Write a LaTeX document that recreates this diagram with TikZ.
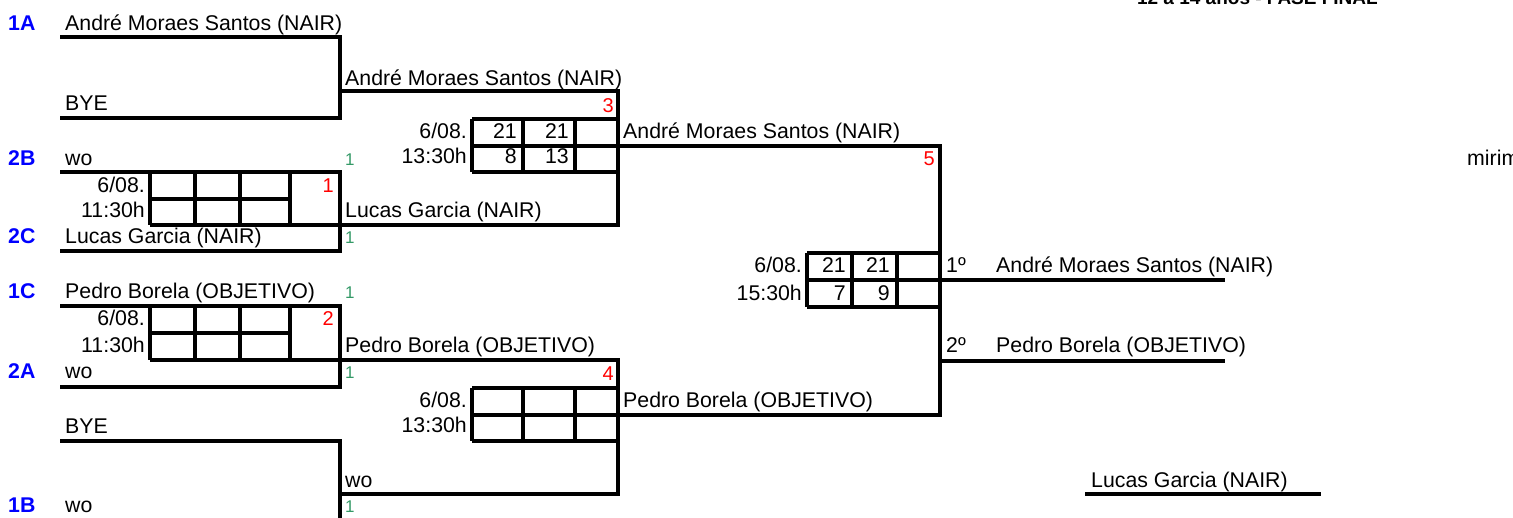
\documentclass[tikz,border=0pt]{standalone}
\usepackage{fontspec}
\setmainfont{Liberation Sans}
\definecolor{grn}{RGB}{51,153,102}
\tikzset{
 br/.style={line width=3.4pt, line join=miter, line cap=butt},
 gr/.style={line width=3.4pt, line cap=butt},
 txt/.style={inner sep=0pt, font=\fontsize{21.3}{24}\selectfont},
 L/.style={txt, anchor=base west},
 R/.style={txt, anchor=base east},
 lab/.style={L, text=blue, font=\fontsize{21.3}{24}\selectfont\bfseries},
 gn/.style={L, text=grn, font=\fontsize{17}{20}\selectfont},
 rd/.style={R, text=red, font=\fontsize{20}{24}\selectfont},
 ttl/.style={inner sep=0pt, anchor=base east, font=\fontsize{19}{22}\selectfont\bfseries},
}
\begin{document}
\begin{tikzpicture}[x=1pt,y=-1pt]
\useasboundingbox (0,0) rectangle (1513,517);
% title and side text
\node[ttl] (title) at (1378,4) {12 a 14 anos - FASE FINAL};
\node[L] (mirim) at (1467,165) {mirim};
% seeds
\node[lab] (s1A) at (8,30) {1A};
\node[lab] (s2B) at (8,165) {2B};
\node[lab] (s2C) at (8,243) {2C};
\node[lab] (s1C) at (8,298) {1C};
\node[lab] (s2A) at (8,378) {2A};
\node[lab] (s1B) at (8,512) {1B};
% first column names
\node[L] (n1A) at (65,30) {André Moraes Santos (NAIR)};
\node[L] (nbye1) at (65,110) {BYE};
\node[L] (n2B) at (65,165) {wo};
\node[L] (n2C) at (65,243) {Lucas Garcia (NAIR)};
\node[L] (n1C) at (65,298) {Pedro Borela (OBJETIVO)};
\node[L] (n2A) at (65,378) {wo};
\node[L] (nbye2) at (65,433) {BYE};
\node[L] (n1B) at (65,512) {wo};
% second column names
\node[L] (r2a) at (345,85) {André Moraes Santos (NAIR)};
\node[L] (r2b) at (345,217) {Lucas Garcia (NAIR)};
\node[L] (r2c) at (345,352) {Pedro Borela (OBJETIVO)};
\node[L] (r2d) at (345,487) {wo};
% third column names
\node[L] (r3a) at (623,138) {André Moraes Santos (NAIR)};
\node[L] (r3b) at (623,407) {Pedro Borela (OBJETIVO)};
% green set counts
\node[gn] (g1) at (345,165) {1};
\node[gn] (g2) at (345,243) {1};
\node[gn] (g3) at (345,298) {1};
\node[gn] (g4) at (345,378) {1};
\node[gn] (g5) at (345,512) {1};
% red match numbers
\node[rd] (m1) at (334,192) {1};
\node[rd] (m2) at (334,325) {2};
\node[rd] (m3) at (614,112) {3};
\node[rd] (m4) at (614,380) {4};
\node[rd] (m5) at (935,165) {5};
% dates and times
\node[R] (d1) at (145,192) {6/08.};
\node[R] (t1) at (145,217) {11:30h};
\node[R] (d2) at (145,325) {6/08.};
\node[R] (t2) at (145,352) {11:30h};
\node[R] (d3) at (467,138) {6/08.};
\node[R] (t3) at (467,163) {13:30h};
\node[R] (d4) at (467,407) {6/08.};
\node[R] (t4) at (467,432) {13:30h};
\node[R] (d5) at (802,272) {6/08.};
\node[R] (t5) at (802,300) {15:30h};
% scores
\node[R] (s3a) at (517,138) {21};
\node[R] (s3b) at (569,138) {21};
\node[R] (s3c) at (517,163) {8};
\node[R] (s3d) at (569,163) {13};
\node[R] (s5a) at (846,272) {21};
\node[R] (s5b) at (890,272) {21};
\node[R] (s5c) at (846,300) {7};
\node[R] (s5d) at (890,300) {9};
% final places
\node[L] (p1) at (946,272) {1º};
\node[L] (p1n) at (996,272) {André Moraes Santos (NAIR)};
\node[L] (p2) at (946,352) {2º};
\node[L] (p2n) at (996,352) {Pedro Borela (OBJETIVO)};
\node[L] (p3n) at (1091,487) {Lucas Garcia (NAIR)};
% bracket corner coordinates
\coordinate (a1) at (60,37);   \coordinate (a2) at (340,37);
\coordinate (a3) at (340,118); \coordinate (a4) at (60,118);
\coordinate (b1) at (60,172);  \coordinate (b2) at (340,172);
\coordinate (b3) at (340,251); \coordinate (b4) at (60,251);
\coordinate (c1) at (60,306);  \coordinate (c2) at (340,306);
\coordinate (c3) at (340,387); \coordinate (c4) at (60,387);
\coordinate (e1) at (60,441);  \coordinate (e2) at (340,441);
\coordinate (e3) at (340,521);
\coordinate (f1) at (340,91);  \coordinate (f2) at (618,91);
\coordinate (f3) at (618,225); \coordinate (f4) at (340,225);
\coordinate (h1) at (340,360); \coordinate (h2) at (618,360);
\coordinate (h3) at (618,494); \coordinate (h4) at (340,494);
\coordinate (k1) at (618,146); \coordinate (k2) at (940,146);
\coordinate (k3) at (940,415); \coordinate (k4) at (618,415);
\coordinate (w1s) at (807,280); \coordinate (w1e) at (1225,280);
\coordinate (w2s) at (940,361); \coordinate (w2e) at (1225,361);
\coordinate (w3s) at (1085,494); \coordinate (w3e) at (1321,494);
% round 1
\draw[br] (a1) -- (a2) -- (a3) -- (a4);
\draw[br] (b1) -- (b2) -- (b3) -- (b4);
\draw[br] (c1) -- (c2) -- (c3) -- (c4);
\draw[br] (e1) -- (e2) -- (e3);
% round 2
\draw[br] (f1) -- (f2) -- (f3) -- (f4) -- (b2 |- f4);
\draw[br] (f4) -- (f4 -| 150,0);
\draw[br] (h1) -- (h2) -- (h3) -- (h4);
\draw[br] (h1) -- (h1 -| 150,0);
% semifinal to final
\draw[br] (k1) -- (k2) -- (k3) -- (k4);
\draw[br] (k1) -- (k1 -| 472,0);
\draw[br] (k4) -- (k4 -| 472,0);
\draw[br] (w1s) -- (w1e);
\draw[br] (w2s) -- (w2e);
\draw[br] (w3s) -- (w3e);
% score grids round 1
\foreach \x in {150,195,240,290} {\draw[gr] (\x,172) -- (\x,225); \draw[gr] (\x,306) -- (\x,360);}
\draw[gr] (150,199) -- (290,199);
\draw[gr] (150,333) -- (290,333);
% score grids round 2
\foreach \x in {472,523,575} {\draw[gr] (\x,119) -- (\x,172); \draw[gr] (\x,388) -- (\x,441);}
\draw[gr] (472,119) -- (618,119) (472,172) -- (618,172);
\draw[gr] (472,388) -- (618,388) (472,441) -- (618,441);
% final grid
\foreach \x in {807,852,897} {\draw[gr] (\x,253) -- (\x,307);}
\draw[gr] (807,253) -- (940,253) (807,307) -- (940,307);
\end{tikzpicture}
\end{document}
